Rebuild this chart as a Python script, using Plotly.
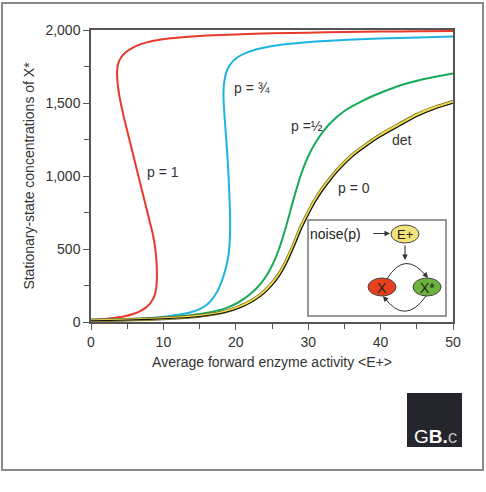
import plotly.graph_objects as go

# ---------------- data ----------------
red_x = [0, 1.7, 3.0, 4.5, 5.8, 6.8, 7.6, 8.2, 8.7, 9.0, 9.1, 9.08, 8.97, 8.8, 8.5, 8.1, 7.7,
         7.3, 6.9, 6.5, 6.1, 5.7, 5.3, 4.9, 4.5, 4.15, 3.85, 3.65, 3.6, 3.75, 4.15, 4.8, 5.8,
         7.0, 8.5, 10.5, 13, 16, 20, 25, 30, 35, 40, 45, 50]
red_y = [15, 20, 28, 38, 55, 75, 100, 130, 170, 230, 300, 380, 460, 530, 610, 690, 770,
         850, 930, 1010, 1090, 1170, 1250, 1330, 1410, 1490, 1570, 1650, 1710, 1770, 1812, 1848,
         1880, 1905, 1925, 1940, 1952, 1962, 1970, 1977, 1982, 1986, 1989, 1991, 1993]

cyan_x = [0, 4, 7.7, 10, 11, 12, 13, 14, 15, 16, 16.8, 17.5, 18.1, 18.6, 19.0, 19.2, 19.22,
          19.15, 19.0, 18.8, 18.55, 18.35, 18.3, 18.45, 18.8, 19.4, 20.2, 21.5, 23.5, 26, 29,
          33, 38, 44, 50]
cyan_y = [15, 19, 26, 36, 42, 50, 58, 70, 88, 118, 160, 215, 285, 365, 460, 600, 700,
          820, 1000, 1170, 1340, 1480, 1580, 1660, 1725, 1775, 1812, 1845, 1875, 1898, 1913,
          1927, 1938, 1947, 1955]

green_x = [0, 4, 8, 12, 15, 18, 19, 20, 21, 22, 23, 24, 25, 26, 27, 28, 29, 30, 31, 32, 33,
           35, 37.5, 40, 43, 46, 50]
green_y = [12, 16, 24, 38, 55, 85, 102, 125, 155, 192, 238, 300, 385, 505, 665, 845, 1010,
           1135, 1228, 1300, 1360, 1445, 1515, 1570, 1625, 1665, 1703]

p0_x = [0, 4, 8, 12, 15, 18, 19, 20, 21, 22, 23, 24, 25, 26, 27, 28, 29, 30, 31, 32, 33, 34,
        36, 38, 40, 42.5, 45, 47.5, 50]
p0_y = [10, 14, 20, 30, 42, 65, 78, 95, 115, 140, 172, 212, 265, 330, 420, 530, 650, 750,
        840, 915, 980, 1040, 1140, 1215, 1282, 1352, 1420, 1470, 1509]
det_y = [8, 12, 18, 27, 38, 60, 72, 88, 107, 131, 162, 200, 250, 314, 402, 512, 632, 733,
         825, 902, 967, 1028, 1128, 1204, 1270, 1340, 1408, 1459, 1498]

x_ticks = [0, 10, 20, 30, 40, 50]
y_ticks = [0, 500, 1000, 1500, 2000]
y_tick_labels = ["0", "500", "1,000", "1,500", "2,000"]

curve_labels = [
    # text, x, y (data units)
    ("p = 1", 9.9, 1025),
    ("p = ¾", 22.2, 1600),
    ("p =½", 29.8, 1340),
    ("det", 42.9, 1250),
    ("p = 0", 36.3, 920),
]

# ---------------- figure ----------------
W, H = 486, 492
L, R, T, B = 91, 33, 30, 170
PW, PH = W - L - R, H - T - B
FONT = "Liberation Sans, Arial, sans-serif"
TXT = "#333333"


def px(x):
    return (x - L) / PW


def py(y):
    return (H - B - y) / PH


fig = go.Figure()
line_style = dict(shape="spline", smoothing=0.6)
fig.add_trace(go.Scatter(x=red_x, y=red_y, mode="lines",
                         line=dict(color="#e8392b", width=2, **line_style)))
fig.add_trace(go.Scatter(x=cyan_x, y=cyan_y, mode="lines",
                         line=dict(color="#1db4e2", width=2, **line_style)))
fig.add_trace(go.Scatter(x=green_x, y=green_y, mode="lines",
                         line=dict(color="#18a85a", width=2, **line_style)))
fig.add_trace(go.Scatter(x=p0_x, y=p0_y, mode="lines",
                         line=dict(color="#6b6428", width=3.6, **line_style)))
fig.add_trace(go.Scatter(x=p0_x, y=p0_y, mode="lines",
                         line=dict(color="#f0dc4a", width=2.2, **line_style)))
fig.add_trace(go.Scatter(x=p0_x, y=det_y, mode="lines",
                         line=dict(color="#111111", width=1.1, **line_style)))

annotations = []
for text, x, y in curve_labels:
    annotations.append(dict(x=x, y=y, xref="x", yref="y", text=text, showarrow=False,
                            font=dict(family=FONT, size=14, color=TXT)))

shapes = []
# outer frame
shapes.append(dict(type="rect", xref="paper", yref="paper", x0=px(2), x1=px(483),
                   y0=py(470), y1=py(3), line=dict(color="#8a8a8a", width=2)))
# inset box
shapes.append(dict(type="rect", xref="paper", yref="paper", x0=px(308), x1=px(446),
                   y0=py(316), y1=py(220), line=dict(color="#777777", width=1.5),
                   fillcolor="white", layer="above"))
# E+, X, X* ellipses
for cx, cy, col in [(405, 234, "#f4e27a"), (382, 287, "#e8401f"), (427, 287, "#6cb33e")]:
    shapes.append(dict(type="circle", xref="paper", yref="paper",
                       x0=px(cx - 14), x1=px(cx + 14), y0=py(cy + 9), y1=py(cy - 9),
                       fillcolor=col, line=dict(color="#444444", width=1), layer="above"))
# arcs
shapes.append(dict(type="path", xref="paper", yref="paper", layer="above",
                   path=f"M {px(387)},{py(279)} Q {px(405)},{py(249)} {px(427)},{py(277)}",
                   line=dict(color="#333333", width=1)))
shapes.append(dict(type="path", xref="paper", yref="paper", layer="above",
                   path=f"M {px(426)},{py(296)} Q {px(405)},{py(326)} {px(384)},{py(297)}",
                   line=dict(color="#333333", width=1)))
# logo box
shapes.append(dict(type="rect", xref="paper", yref="paper", x0=px(407), x1=px(462),
                   y0=py(447), y1=py(393), fillcolor="#25252d", line=dict(width=0)))

arrow = dict(xref="paper", yref="paper", text="", showarrow=True, arrowhead=2,
             arrowsize=1, arrowwidth=1.1, arrowcolor="#333333", axref="pixel", ayref="pixel")
annotations += [
    dict(x=px(390), y=py(233.5), ax=-18, ay=0, **arrow),
    dict(x=px(405), y=py(260), ax=0, ay=-16, **arrow),
    dict(x=px(428), y=py(278), ax=-5, ay=-6, **arrow),
    dict(x=px(383), y=py(296), ax=5, ay=6, **arrow),
]
center = dict(xref="paper", yref="paper", showarrow=False, xanchor="center", yanchor="middle")
annotations += [
    dict(x=px(308), y=py(234), xref="paper", yref="paper", xanchor="left", yanchor="middle",
         showarrow=False, text="noise(p)", font=dict(family=FONT, size=14, color="#222222")),
    dict(x=px(405), y=py(234.5), text="E+", font=dict(family=FONT, size=13, color="#222222"),
         **center),
    dict(x=px(382), y=py(287.5), text="X", font=dict(family=FONT, size=14, color="#222222"),
         **center),
    dict(x=px(427.5), y=py(287.5), text="X*", font=dict(family=FONT, size=14, color="#222222"),
         **center),
    dict(x=px(435), y=py(436), text="G<b>B.</b><span style='color:#bbbbbb'>c</span>",
         font=dict(family=FONT, size=19, color="white"), **center),
]

axis_common = dict(showgrid=False, zeroline=False, showline=True, linecolor="#555555",
                   linewidth=1.5, ticks="outside", ticklen=6, tickwidth=1.2,
                   tickcolor="#555555", mirror=True,
                   tickfont=dict(family=FONT, size=14, color=TXT))

fig.update_layout(
    width=W, height=H, margin=dict(l=L, r=R, t=T, b=B, autoexpand=False),
    paper_bgcolor="white", plot_bgcolor="white", showlegend=False,
    xaxis=dict(range=[0, 50], tickvals=x_ticks,
               minor=dict(dtick=5, ticks="outside", ticklen=5, tickcolor="#555555"),
               title=dict(text="Average forward enzyme activity &lt;E+&gt;", standoff=9,
                          font=dict(family=FONT, size=14, color=TXT)),
               **axis_common),
    yaxis=dict(range=[0, 2000], tickvals=y_ticks, ticktext=y_tick_labels,
               minor=dict(dtick=250, ticks="outside", ticklen=5, tickcolor="#555555"),
               title=dict(text="Stationary-state concentrations of X*", standoff=8,
                          font=dict(family=FONT, size=14, color=TXT)),
               **axis_common),
    shapes=shapes, annotations=annotations,
)

fig.write_html("out.html")
